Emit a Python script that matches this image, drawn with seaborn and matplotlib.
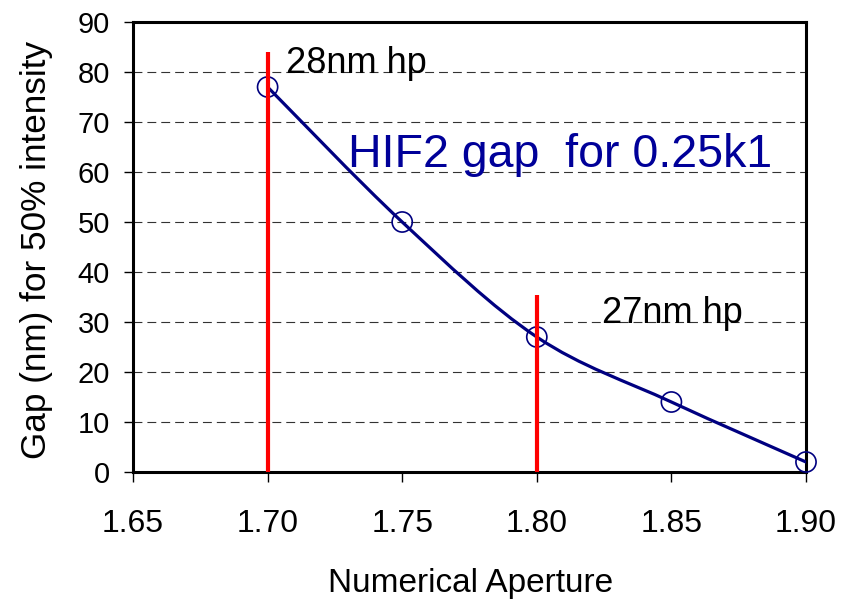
import numpy as np
import matplotlib
matplotlib.use("Agg")
import matplotlib.pyplot as plt
import seaborn as sns
from matplotlib.path import Path
from matplotlib.patches import PathPatch

# ---- data ----
numerical_aperture = [1.70, 1.75, 1.80, 1.85, 1.90]
gap_nm = [77, 50, 27, 14, 2]
hp_line_x = [1.70, 1.80]
hp_line_top = [84, 35.5]
hp_labels = ["28nm hp", "27nm hp"]
x_ticks = [1.65, 1.70, 1.75, 1.80, 1.85, 1.90]
x_tick_labels = ["1.65", "1.70", "1.75", "1.80", "1.85", "1.90"]
y_ticks = [0, 10, 20, 30, 40, 50, 60, 70, 80, 90]
title_text = "HIF2 gap  for 0.25k1"

sns.set_theme(style="white")
plt.rcParams["font.family"] = ["Liberation Sans", "DejaVu Sans"]

navy = "#000080"
fig = plt.figure(figsize=(8.59, 6), dpi=100)
ax = fig.add_axes([133 / 859, 1 - 472 / 600, 673 / 859, 450 / 600])

# smoothed line (Catmull-Rom style Bezier through the data points)
pts = np.column_stack([numerical_aperture, gap_nm]).astype(float)
n = len(pts)
verts = [pts[0]]
codes = [Path.MOVETO]
for i in range(n - 1):
    p0 = pts[i - 1] if i > 0 else pts[i]
    p1 = pts[i]
    p2 = pts[i + 1]
    p3 = pts[i + 2] if i + 2 < n else pts[i + 1]
    c1 = p1 + (p2 - p0) / 6.0
    c2 = p2 - (p3 - p1) / 6.0
    verts += [c1, c2, p2]
    codes += [Path.CURVE4] * 3
ax.add_patch(PathPatch(Path(verts, codes), facecolor="none", edgecolor=navy,
                       lw=2.3, zorder=3, capstyle="round", joinstyle="round"))

sns.scatterplot(x=numerical_aperture, y=gap_nm, ax=ax, marker="o", s=14.5 ** 2,
                facecolors="none", edgecolor=navy, linewidth=1.2, zorder=4,
                clip_on=False)

ax.vlines(hp_line_x, 0, hp_line_top, color="#ff0000", lw=3, zorder=5)

ax.text(1.707, 79.8, hp_labels[0], fontsize=26, ha="left", va="baseline", color="black", zorder=6)
ax.text(1.8242, 29.8, hp_labels[1], fontsize=26, ha="left", va="baseline", color="black", zorder=6)
ax.text(1.730, 61.0, title_text, fontsize=33.5, ha="left", va="baseline", color="#000099", zorder=6)

ax.set_xlim(1.65, 1.90)
ax.set_ylim(0, 90)
ax.set_xticks(x_ticks)
ax.set_xticklabels(x_tick_labels)
ax.set_yticks(y_ticks)

ax.yaxis.grid(True, linestyle=(0, (8, 4.5)), color="#333333", lw=0.8)
ax.xaxis.grid(False)
ax.set_axisbelow(True)

for sp in ax.spines.values():
    sp.set_visible(True)
    sp.set_color("black")
    sp.set_linewidth(2.2)

ax.tick_params(axis="x", bottom=True, direction="out", length=7.5, width=1,
               labelsize=23, pad=19, colors="black")
ax.tick_params(axis="y", left=True, direction="out", length=6.5, width=1,
               labelsize=21, pad=10, colors="black")

ax.set_xlabel("Numerical Aperture", fontsize=24, color="black")
ax.set_ylabel("Gap (nm) for 50% intensity", fontsize=25.3, color="black")
ax.xaxis.set_label_coords(0.502, -0.213)
ax.yaxis.set_label_coords(-0.119, 0.493)

fig.savefig("out.png", dpi=100, facecolor="white")
